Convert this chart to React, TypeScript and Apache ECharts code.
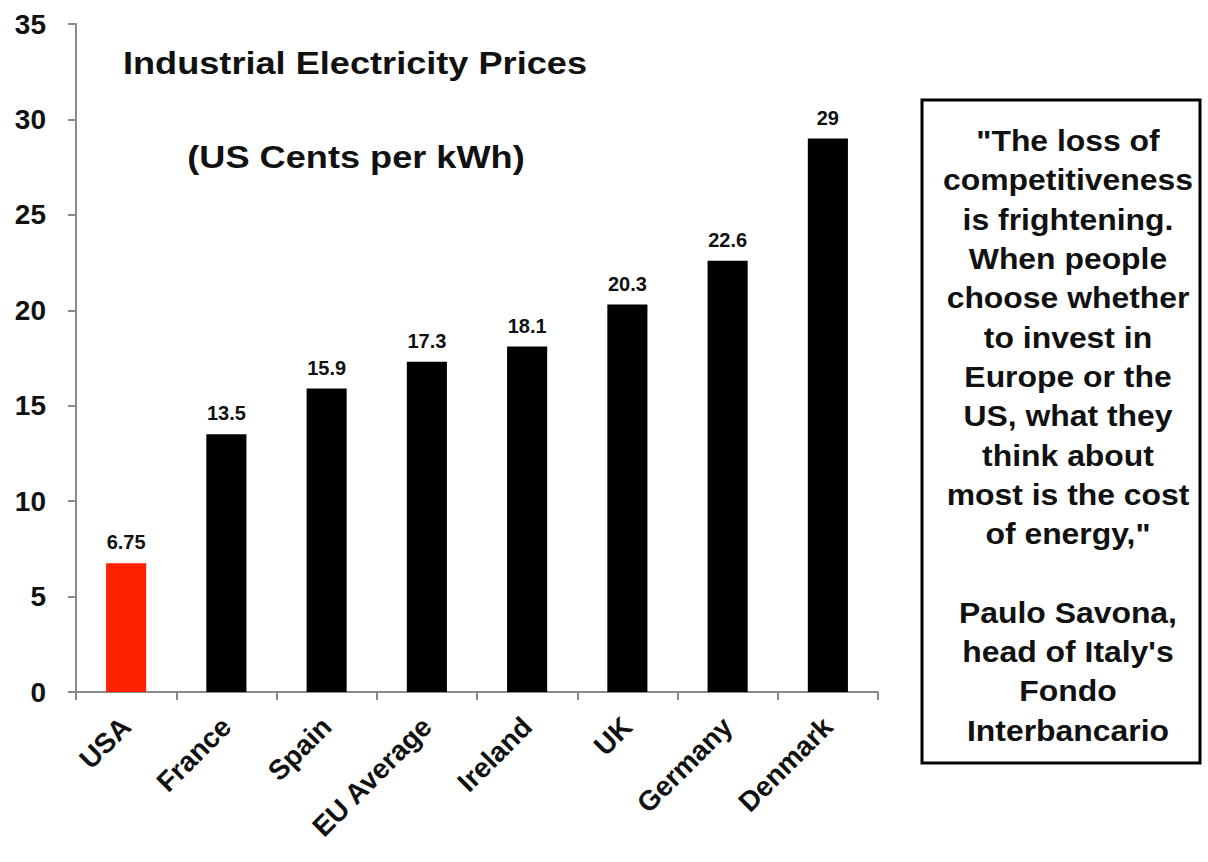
import React, { useEffect, useRef } from "react";
import * as echarts from "echarts";

const categories = ["USA", "France", "Spain", "EU Average", "Ireland", "UK", "Germany", "Denmark"];
const prices = [6.75, 13.5, 15.9, 17.3, 18.1, 20.3, 22.6, 29];
const barColors = ["#ff2200", "#000000", "#000000", "#000000", "#000000", "#000000", "#000000", "#000000"];
const titleLines = ["Industrial Electricity Prices", "(US Cents per kWh)"];
const quoteLines = [
  "\"The loss of",
  "competitiveness",
  "is frightening.",
  "When people",
  "choose whether",
  "to invest in",
  "Europe or the",
  "US, what they",
  "think about",
  "most is the cost",
  "of energy,\"",
  "",
  "Paulo Savona,",
  "head of Italy's",
  "Fondo",
  "Interbancario",
];

const FONT = "'Liberation Sans', Arial, Helvetica, sans-serif";

export default function App() {
  const ref = useRef<HTMLDivElement>(null);
  useEffect(() => {
    if (!ref.current) return;
    const chart = echarts.init(ref.current, null, { renderer: "svg" });
    chart.setOption({
      animation: false,
      backgroundColor: "#ffffff",
      textStyle: { fontFamily: FONT },
      grid: { left: 76, right: 330, top: 24, bottom: 170, containLabel: false },
      xAxis: {
        type: "category",
        data: categories,
        axisLine: { show: true, lineStyle: { color: "#8a8a8a", width: 2 } },
        axisTick: { show: true, alignWithLabel: false, length: 8, lineStyle: { color: "#8a8a8a", width: 2 } },
        axisLabel: {
          rotate: 45,
          margin: 30,
          interval: 0,
          color: "#111",
          fontSize: 28,
          fontWeight: "bold",
          fontFamily: FONT,
        },
      },
      yAxis: {
        type: "value",
        min: 0,
        max: 35,
        interval: 5,
        splitLine: { show: false },
        axisLine: { show: true, lineStyle: { color: "#8a8a8a", width: 2 } },
        axisTick: { show: true, length: 8, lineStyle: { color: "#8a8a8a", width: 2 } },
        axisLabel: {
          margin: 30,
          color: "#111",
          fontSize: 28,
          fontWeight: "bold",
          fontFamily: FONT,
        },
      },
      series: [
        {
          type: "bar",
          barWidth: "40%",
          data: prices.map((v, i) => ({ value: v, itemStyle: { color: barColors[i] } })),
          label: {
            show: true,
            position: "top",
            distance: 11,
            color: "#111",
            fontSize: 20,
            fontWeight: "bold",
            fontFamily: FONT,
          },
        },
      ],
      graphic: [
        {
          type: "text",
          x: 355,
          y: 63,
          scaleX: 1.13,
          style: {
            text: titleLines[0],
            fill: "#111",
            font: `bold 32px ${FONT}`,
            textAlign: "center",
            textVerticalAlign: "middle",
          },
        },
        {
          type: "text",
          x: 356,
          y: 157,
          scaleX: 1.13,
          style: {
            text: titleLines[1],
            fill: "#111",
            font: `bold 32px ${FONT}`,
            textAlign: "center",
            textVerticalAlign: "middle",
          },
        },
        {
          type: "rect",
          shape: { x: 922, y: 100, width: 278, height: 663 },
          style: { fill: "#ffffff", stroke: "#000000", lineWidth: 3 },
        },
        {
          type: "text",
          x: 1068,
          y: 121,
          scaleX: 1.1,
          style: {
            text: quoteLines.join("\n"),
            fill: "#111",
            font: `bold 29px ${FONT}`,
            lineHeight: 39.3,
            textAlign: "center",
            textVerticalAlign: "top",
          },
        },
      ],
    });
    return () => chart.dispose();
  }, []);
  return (
    <div
      ref={ref}
      style={{ position: "absolute", left: 0, top: 0, width: 1208, height: 862 }}
    />
  );
}
